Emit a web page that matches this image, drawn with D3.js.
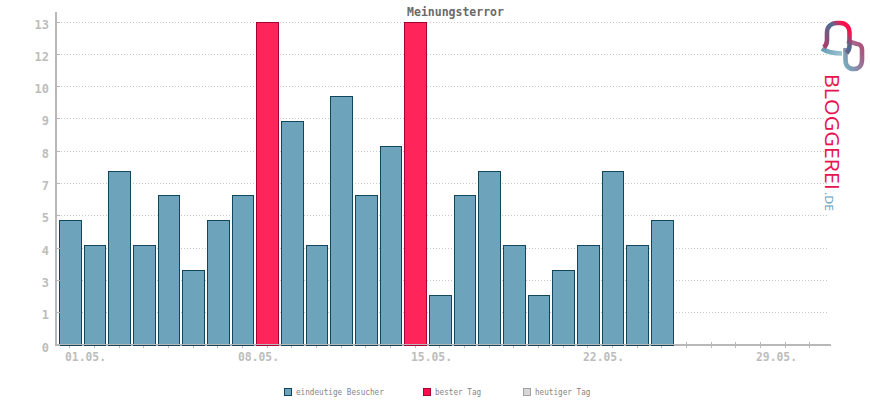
<!DOCTYPE html>
<html><head><meta charset="utf-8">
<script src="https://cdnjs.cloudflare.com/ajax/libs/d3/7.8.5/d3.min.js"></script>
<style>html,body{margin:0;padding:0;background:#fff}svg{display:block}</style>
</head><body><svg id="c" width="870" height="400"></svg>
<script>
const title = "Meinungsterror";
const days = d3.range(1, 32);
const visitors = [5,4,7,4,6,3,5,6,13,9,4,10,6,8,13,2,6,7,4,2,3,4,7,4,5];
const bestValue = 13;
const yTickValues = [0,1.3,2.6,3.9,5.2,6.5,7.8,9.1,10.4,11.7,13];
const xLabelDays = [1,8,15,22,29];
const legendLabels = ["eindeutige Besucher","bester Tag","heutiger Tag"];
const MONO = "'DejaVu Sans Mono','Liberation Mono',monospace";

const svg = d3.select("#c");
const pi = 1 - 21.7 / 24.67;
const x = d3.scaleBand().domain(days).range([57.53, 822.3]).paddingInner(pi).paddingOuter(pi / 2);
const y = d3.scaleLinear().domain([0, 13]).range([345, 22]);
const px = v => Math.floor(y(v)) + .5;               // crisp horizontal position
const cx = d => Math.round(x(d) + x.bandwidth() / 2 - .5) + .5;
const left = d => Math.round(x(d)) + .5;
const right = d => Math.round(x(d) + x.bandwidth()) + .5;
const axisColor = "#b8b8b8";

// x axis and ticks below the bars
const xAxis = d3.axisBottom(x).tickValues(days).tickSize(0).tickFormat("");
const gx = svg.append("g").call(xAxis).attr("transform", "translate(0,345)");
gx.select(".domain").remove();
gx.selectAll(".tick").attr("transform", d => `translate(${cx(d)},0)`)
  .append("line").attr("x1",0).attr("x2",0).attr("y1",-3).attr("y2",3).attr("stroke", axisColor);

// grid
svg.append("g").selectAll("line").data(yTickValues.slice(1)).join("line")
  .attr("x1", 58).attr("x2", 829)
  .attr("y1", px).attr("y2", px)
  .attr("stroke", "#c8c8c8").attr("stroke-width", 1).attr("stroke-dasharray", "1 2");

svg.append("rect").attr("x", 55).attr("y", 344).attr("width", 776).attr("height", 2).attr("fill", axisColor);

// bars
svg.append("g").selectAll("rect").data(visitors).join("rect")
  .attr("x", (d, i) => left(days[i]))
  .attr("width", (d, i) => right(days[i]) - left(days[i]))
  .attr("y", d => px(d))
  .attr("height", d => px(0) - px(d))
  .attr("fill", d => d === bestValue ? "#ff2459" : "#6da3bb")
  .attr("stroke", d => d === bestValue ? "#a80035" : "#12465c")
  .attr("stroke-width", 1);

// axes on top
svg.append("rect").attr("x", 55).attr("y", 12).attr("width", 2).attr("height", 334).attr("fill", axisColor);
svg.append("rect").attr("x", 55).attr("y", 344).attr("width", 776).attr("height", 1).attr("fill", axisColor);

svg.append("g").selectAll("text").data(xLabelDays).join("text")
  .attr("x", d => cx(d) - 4.5).attr("y", 361)
  .attr("font-family", MONO).attr("font-size", 12).attr("font-weight", "bold")
  .attr("textLength", 41).attr("lengthAdjust", "spacingAndGlyphs")
  .attr("fill", "#bdbdbd")
  .text(d => String(d).padStart(2, "0") + ".05.");

svg.append("g").selectAll("text").data(yTickValues).join("text")
  .attr("x", 49).attr("y", d => Math.floor(y(d)) + 7)
  .attr("text-anchor", "end")
  .attr("font-family", MONO).attr("font-size", 12).attr("font-weight", "bold")
  .attr("fill", "#bdbdbd")
  .text(d => Math.round(d));
svg.append("g").selectAll("line").data(yTickValues).join("line")
  .attr("x1", 57).attr("x2", 60)
  .attr("y1", px).attr("y2", px)
  .attr("stroke", axisColor);

// title
svg.append("text").attr("x", 455.5).attr("y", 16).attr("text-anchor", "middle")
  .attr("font-family", MONO).attr("font-size", 11.5).attr("font-weight", "bold")
  .attr("fill", "#6a6a6a").text(title);

// legend
const legX = [284, 423, 523];
const legFill = ["#6da3bb", "#ff0f4b", "#d8d8d8"];
const legStroke = ["#12465c", "#a80035", "#a0a0a0"];
const lg = svg.append("g").selectAll("g").data(legendLabels).join("g")
  .attr("transform", (d, i) => `translate(${legX[i]},388)`);
lg.append("rect").attr("x", .5).attr("y", .5).attr("width", 7).attr("height", 7)
  .attr("fill", (d, i) => legFill[i]).attr("stroke", (d, i) => legStroke[i]);
lg.append("text").attr("x", 12).attr("y", 7)
  .attr("font-family", MONO).attr("font-size", 9).attr("fill", "#858585")
  .attr("textLength", d => d.length * 4.62).attr("lengthAdjust", "spacingAndGlyphs").text(d => d);

// logo
const defs = svg.append("defs");
function grad(id, a, b, stops) {
  const g = defs.append("linearGradient").attr("id", id).attr("gradientUnits", "userSpaceOnUse")
    .attr("x1", a[0]).attr("y1", a[1]).attr("x2", b[0]).attr("y2", b[1]);
  stops.forEach(s => g.append("stop").attr("offset", s[0]).attr("stop-color", s[1]));
}
grad("lgText", [0, 74], [0, 192], [[0, "#e5154f"], [.35, "#a8315c"], [.65, "#6f5a85"], [1, "#3f6f92"]]);
grad("lgArch", [826, 46], [851, 26], [[0, "#a5406c"], [.55, "#4a6f92"], [.85, "#ff0f4b"]]);
grad("lgTail", [821, 48], [845, 55], [[0, "#5f9bb5"], [1, "#a9c9d8"]]);
grad("lgRing", [844, 60], [864, 50], [[0, "#78a8be"], [1, "#b0507a"]]);
const logo = svg.append("g").attr("fill", "none").attr("stroke-width", 4.6);
logo.append("path").attr("d", "M847 41 L857 44 C860.5 44 862 47 862 50 L862 60 C862 66 858 69 854 69 C849 69 845.5 66 845.5 60 L845.5 48")
  .attr("stroke", "url(#lgRing)");
logo.append("path").attr("d", "M822 48.5 C827 52 832 53.5 842 53.5")
  .attr("stroke", "url(#lgTail)");
logo.append("path").attr("d", "M824 47.5 C826.5 45 827 43 827 40 L827 33 C827 27 831 23 837 23 L840 23 C846 23 849.5 27 849.5 33 L849.5 46 C849.5 49 848.5 51 846.5 53")
  .attr("stroke", "url(#lgArch)");
logo.append("text").attr("transform", "translate(824.5,74) rotate(90)")
  .attr("font-family", "'Open Sans','Noto Sans',sans-serif").attr("font-size", 20.5).attr("font-weight", 500)
  .attr("textLength", 116).attr("lengthAdjust", "spacingAndGlyphs")
  .attr("fill", "url(#lgText)").attr("stroke", "none").text("BLOGGEREI");
logo.append("text").attr("transform", "translate(824.5,192) rotate(90)")
  .attr("font-family", "'Open Sans','Noto Sans',sans-serif").attr("font-size", 11)
  .attr("textLength", 19).attr("lengthAdjust", "spacingAndGlyphs")
  .attr("fill", "#5f9cb8").attr("stroke", "none").text(".DE");
</script></body></html>
